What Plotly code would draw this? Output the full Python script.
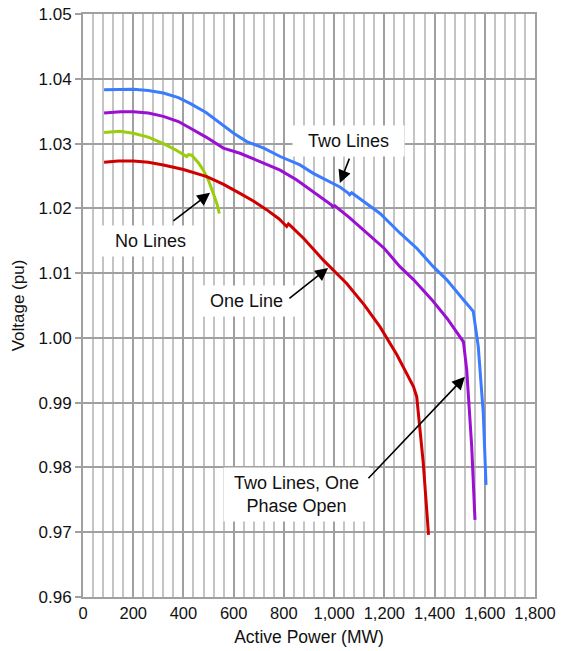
import plotly.graph_objects as go

# ---- data ----
two_lines_x = [84, 150, 200, 260, 320, 380, 426, 490, 546, 600, 652, 720, 785, 864, 917, 980, 1023,
               1055, 1062, 1070, 1120, 1183, 1262, 1330, 1395, 1448, 1515, 1554, 1574, 1594, 1605]
two_lines_y = [1.0383, 1.0384, 1.0384, 1.0382, 1.0378, 1.0371, 1.0362, 1.0348, 1.0331, 1.0316, 1.0303,
               1.0293, 1.0280, 1.0267, 1.0254, 1.0242, 1.0233, 1.0224, 1.0221, 1.0224, 1.0210, 1.0192,
               1.0162, 1.0138, 1.0110, 1.0090, 1.0059, 1.0041, 0.9987, 0.9884, 0.9773]

phase_open_x = [84, 150, 200, 260, 320, 380, 426, 490, 559, 625, 700, 785, 850, 917, 990, 995, 1003,
                1060, 1130, 1200, 1262, 1316, 1389, 1450, 1515, 1528, 1548, 1561]
phase_open_y = [1.0347, 1.0349, 1.0349, 1.0347, 1.0342, 1.0334, 1.0324, 1.0310, 1.0293, 1.0285, 1.0273,
                1.0259, 1.0244, 1.0226, 1.0205, 1.0202, 1.0204, 1.0186, 1.0162, 1.0138, 1.0110, 1.0090,
                1.0059, 1.0030, 0.9994, 0.9951, 0.9832, 0.9719]

no_lines_x = [84, 147, 200, 260, 320, 370, 413, 420, 433, 460, 479, 500, 519, 535, 543]
no_lines_y = [1.0317, 1.0319, 1.0316, 1.0310, 1.0300, 1.0290, 1.0280, 1.0283, 1.0282, 1.0270, 1.0259,
              1.0243, 1.0223, 1.0205, 1.0192]

one_line_x = [84, 140, 200, 260, 320, 400, 493, 560, 625, 680, 731, 780, 811, 818, 824, 880, 957, 1050,
              1120, 1183, 1250, 1316, 1329, 1335, 1355, 1376]
one_line_y = [1.0271, 1.0273, 1.0273, 1.0271, 1.0267, 1.0260, 1.0249, 1.0237, 1.0223, 1.0211, 1.0198,
              1.0184, 1.0172, 1.0176, 1.0174, 1.0153, 1.0120, 1.0084, 1.0051, 1.0017, 0.9974, 0.9925,
              0.9909, 0.9884, 0.9807, 0.9696]

x_tick_vals = [0, 200, 400, 600, 800, 1000, 1200, 1400, 1600, 1800]
y_tick_vals = [0.96, 0.97, 0.98, 0.99, 1.00, 1.01, 1.02, 1.03, 1.04, 1.05]

FONT = "Liberation Sans, Arial, sans-serif"

fig = go.Figure()
for xs, ys, col in [
    (two_lines_x, two_lines_y, "#3a7bff"),
    (phase_open_x, phase_open_y, "#9a0fd2"),
    (no_lines_x, no_lines_y, "#9acd0a"),
    (one_line_x, one_line_y, "#d10000"),
]:
    fig.add_trace(go.Scatter(x=xs, y=ys, mode="lines", line=dict(color=col, width=3), showlegend=False))

# text boxes
NB = "&nbsp;"
labels = [
    (NB * 2 + "Two Lines" + NB * 2, 1059, 1.0304),
    (NB * 2 + "No Lines" + NB * 2, 267, 1.0150),
    (NB * 2 + "One Line" + NB * 2, 653, 1.0057),
    (NB + "Two Lines, One" + NB + "<br>Phase Open", 852, 0.9759),
]
for txt, x, y in labels:
    fig.add_annotation(x=x, y=y, xref="x", yref="y", text=txt, showarrow=False,
                       bgcolor="white", borderpad=5, font=dict(size=18, color="#111", family=FONT))

# arrows (tail -> head)
arrows = [
    (1063, 1.0279, 1023, 1.0239),
    (354, 1.0179, 506, 1.0224),
    (816, 1.0059, 976, 1.0108),
    (1131, 0.9781, 1521, 0.9940),
]
for tx, ty, hx, hy in arrows:
    fig.add_annotation(x=hx, y=hy, ax=tx, ay=ty, xref="x", yref="y", axref="x", ayref="y",
                       text="", showarrow=True, arrowhead=2, arrowsize=1.6, arrowwidth=1.6,
                       arrowcolor="black")

fig.update_layout(
    width=561, height=651,
    margin=dict(l=83, r=26, t=14, b=54, autoexpand=False),
    paper_bgcolor="white", plot_bgcolor="white",
    font=dict(family=FONT, size=16, color="#111"),
)
fig.update_xaxes(
    range=[0, 1800], tickvals=x_tick_vals, tickformat=",d", automargin=False,
    showgrid=True, gridcolor="#a0a0a0", gridwidth=2,
    minor=dict(dtick=40, showgrid=True, gridcolor="#c4c4c4", gridwidth=2),
    showline=True, linecolor="#a0a0a0", linewidth=2, mirror=True,
    ticks="", zeroline=False, tickfont=dict(size=16.5),
    title=dict(text="Active Power (MW)", font=dict(size=17.5), standoff=10),
)
fig.update_yaxes(
    range=[0.96, 1.05], tickvals=y_tick_vals, tickformat=".2f", automargin=False,
    showgrid=True, gridcolor="#a0a0a0", gridwidth=2,
    showline=True, linecolor="#a0a0a0", linewidth=2, mirror=True,
    ticks="outside", ticklen=6, tickcolor="#a0a0a0", tickwidth=2,
    zeroline=False, tickfont=dict(size=17),
    title=dict(text="Voltage (pu)", font=dict(size=17), standoff=10),
)

fig.write_html("out.html")
